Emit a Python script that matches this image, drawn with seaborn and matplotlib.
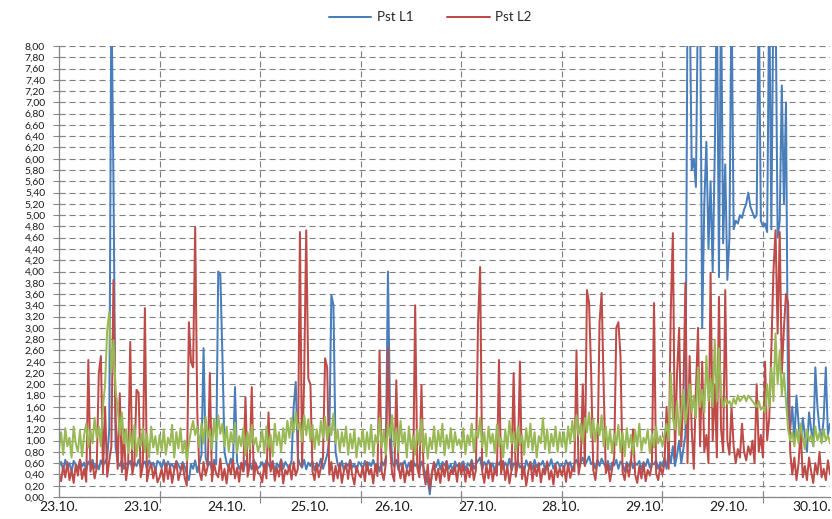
import numpy as np
import pandas as pd
import matplotlib
matplotlib.use('Agg')
import matplotlib.pyplot as plt
import seaborn as sns

# Pst readings, one value every 30 min starting 23.10. ~03:50
pst_l1 = [
    # day 0
    0.55, 0.62, 0.48, 0.66, 0.52, 0.60, 0.45, 0.64, 0.58, 0.50, 0.66, 0.54,
    0.61, 0.47, 0.63, 0.57, 0.66, 0.51, 0.60, 0.49, 0.65, 0.56, 0.62, 0.70,
    1.20, 9.00, 5.60, 0.90, 0.62, 0.55, 0.66, 0.50, 0.60, 0.57, 0.64, 0.48,
    0.61, 0.55, 0.66, 0.52, 0.59, 0.63, 0.50, 0.65, 0.56, 0.61, 0.47, 0.64,
    # day 1
    0.60, 0.52, 0.66, 0.48, 0.63, 0.55, 0.58, 0.50, 0.64, 0.57, 0.49, 0.62,
    0.54, 0.40, 0.30, 0.58, 0.50, 0.65, 0.44, 0.60, 0.75, 2.64, 0.70, 0.55,
    0.62, 0.48, 0.66, 0.58, 4.00, 3.95, 2.50, 0.80, 0.60, 0.52, 0.68, 0.55,
    1.95, 0.62, 0.50, 0.58, 0.46, 0.64, 0.53, 0.60, 0.49, 0.66, 0.56, 0.51,
    # day 2
    0.55, 0.62, 0.48, 0.66, 0.58, 0.51, 0.64, 0.45, 0.60, 0.53, 0.67, 0.50,
    0.62, 0.56, 0.48, 0.65, 1.60, 2.04, 0.70, 0.58, 0.52, 0.66, 0.49, 0.61,
    0.55, 0.63, 0.47, 0.60, 0.54, 0.68, 0.50, 0.62, 0.75, 1.00, 3.58, 3.40,
    0.80, 0.58, 0.50, 0.64, 0.47, 0.60, 0.55, 0.66, 0.52, 0.59, 0.45, 0.62,
    # day 3
    0.58, 0.50, 0.64, 0.47, 0.61, 0.55, 0.66, 0.52, 0.60, 0.45, 0.63, 0.56,
    0.70, 4.00, 1.50, 0.62, 0.54, 0.66, 0.48, 0.60, 0.57, 0.64, 0.50, 0.61,
    0.46, 0.65, 0.55, 0.59, 0.48, 0.63, 0.52, 0.40, 0.30, 0.05, 0.45, 0.60,
    0.53, 0.66, 0.49, 0.62, 0.56, 0.64, 0.50, 0.58, 0.46, 0.63, 0.54, 0.60,
    # day 4
    0.52, 0.63, 0.47, 0.60, 0.55, 0.66, 0.50, 0.58, 0.64, 0.70, 0.48, 0.62,
    0.56, 0.65, 0.51, 0.60, 0.45, 0.63, 0.57, 0.66, 0.50, 0.61, 0.54, 0.68,
    0.47, 0.60, 0.56, 0.64, 0.52, 0.58, 0.46, 0.65, 0.55, 0.62, 0.49, 0.66,
    0.53, 0.60, 0.57, 0.64, 0.48, 0.61, 0.55, 0.67, 0.50, 0.59, 0.62, 0.54,
    # day 5
    0.58, 0.50, 0.65, 0.55, 0.62, 0.47, 0.60, 0.66, 0.53, 0.61, 0.70, 0.56,
    0.64, 0.72, 0.58, 0.62, 0.50, 0.66, 0.55, 0.68, 0.60, 0.52, 0.64, 0.48,
    0.61, 0.56, 0.66, 0.50, 0.63, 0.58, 0.45, 0.62, 0.54, 0.66, 0.51, 0.60,
    0.57, 0.64, 0.49, 0.62, 0.55, 0.67, 0.52, 0.60, 0.58, 0.65, 0.50, 0.62,
    # day 6
    0.55, 0.70, 0.50, 0.80, 0.60, 0.90, 0.55, 0.75, 1.00, 0.60, 0.85, 1.10,
    9.00, 9.00, 5.80, 6.00, 5.50, 9.00, 9.00, 3.00, 5.20, 6.30, 4.40, 5.60,
    4.00, 6.10, 9.00, 3.90, 9.00, 4.50, 5.90, 3.85, 4.60, 9.00, 4.75, 4.90,
    4.85, 5.00, 4.95, 5.10, 5.20, 5.40, 5.15, 5.05, 4.95, 5.00, 9.00, 4.90,
    # day 7
    4.80, 4.85, 4.70, 9.00, 4.75, 9.00, 9.00, 4.60, 4.90, 7.30, 5.20, 7.00,
    1.50, 1.20, 1.60, 1.00, 1.80, 1.30, 0.90, 1.40, 1.10, 0.80, 1.50, 1.20,
    0.90, 2.30, 1.60, 1.20, 1.00, 1.40, 2.30, 1.10, 1.30,
]

pst_l2 = [
    # day 0
    0.40, 0.28, 0.55, 0.35, 0.62, 0.30, 0.48, 0.25, 0.58, 0.38, 0.66, 0.32,
    0.50, 0.27, 2.43, 0.45, 0.60, 0.33, 0.52, 2.20, 2.50, 0.42, 1.60, 0.36,
    0.65, 0.90, 3.85, 1.40, 0.50, 1.84, 0.44, 1.20, 0.30, 0.58, 2.75, 0.40,
    0.62, 1.90, 1.85, 0.35, 0.55, 3.35, 0.28, 0.48, 0.60, 0.33, 0.52, 0.26,
    # day 1
    0.35, 0.50, 0.27, 0.60, 0.32, 0.55, 0.25, 0.48, 0.62, 0.30, 0.45, 0.58,
    0.34, 0.20, 3.10, 2.40, 2.30, 4.79, 1.50, 0.45, 0.30, 0.62, 0.38, 0.55,
    2.20, 0.28, 0.60, 0.42, 0.35, 0.68, 0.30, 0.50, 0.24, 0.58, 0.40, 0.66,
    0.33, 0.52, 0.27, 0.61, 0.45, 1.77, 0.36, 0.55, 1.95, 0.30, 0.60, 0.42,
    # day 2
    0.40, 0.26, 0.58, 0.33, 1.50, 0.45, 0.62, 0.29, 0.52, 0.36, 0.65, 0.24,
    0.48, 0.40, 0.57, 0.31, 0.62, 0.38, 0.50, 4.70, 0.55, 2.10, 4.73, 2.10,
    2.00, 0.45, 0.30, 0.60, 0.35, 0.52, 0.70, 2.46, 2.30, 0.40, 0.62, 0.28,
    0.55, 0.33, 0.60, 0.25, 0.47, 0.58, 0.32, 0.64, 0.38, 0.22, 0.55, 0.41,
    # day 3
    0.35, 0.55, 0.28, 0.62, 0.40, 0.50, 0.24, 0.58, 0.37, 2.60, 0.45, 0.30,
    0.60, 2.64, 0.90, 0.42, 0.28, 2.07, 0.55, 0.33, 0.60, 0.26, 0.48, 0.38,
    0.64, 0.30, 3.40, 0.52, 0.35, 1.98, 0.45, 0.22, 0.58, 0.15, 0.40, 0.62,
    0.30, 0.50, 0.25, 0.57, 0.36, 0.63, 0.29, 0.48, 0.41, 0.55, 0.27, 0.60,
    # day 4
    0.40, 0.58, 0.27, 0.52, 0.35, 0.62, 0.30, 0.48, 3.08, 4.08, 0.45, 0.25,
    0.57, 0.33, 0.60, 0.28, 0.50, 0.38, 2.43, 0.42, 0.64, 0.30, 0.55, 0.24,
    0.48, 2.20, 0.36, 0.60, 2.40, 0.32, 0.53, 0.20, 0.45, 0.62, 0.28, 0.56,
    0.37, 0.60, 0.26, 0.50, 0.40, 0.63, 0.31, 0.47, 0.22, 0.58, 0.35, 0.52,
    # day 5
    0.38, 0.55, 0.27, 0.60, 0.34, 0.50, 0.45, 2.60, 0.40, 0.62, 2.00, 0.55,
    3.67, 3.44, 2.20, 0.48, 0.30, 0.65, 3.10, 3.62, 1.90, 0.42, 0.58, 0.28,
    0.50, 0.70, 3.00, 3.10, 2.50, 0.45, 0.30, 0.58, 0.36, 0.62, 1.20, 0.40,
    0.25, 0.55, 0.33, 0.60, 0.28, 0.48, 0.38, 0.57, 3.44, 0.42, 0.30, 0.55,
    # day 6
    0.40, 0.60, 1.60, 0.50, 3.30, 4.68, 0.70, 2.20, 3.00, 0.90, 1.80, 3.80,
    0.60, 2.50, 1.20, 0.50, 1.90, 3.00, 0.90, 2.40, 0.80, 1.10, 0.60, 3.97,
    1.00, 2.00, 0.70, 3.55, 1.20, 0.80, 3.67, 1.00, 0.75, 1.60, 0.90, 0.60,
    0.85, 0.70, 1.30, 0.80, 0.65, 0.90, 0.75, 1.00, 0.60, 2.00, 0.80, 1.10,
    # day 7
    0.70, 2.40, 1.00, 1.40, 2.60, 4.00, 4.73, 2.90, 4.70, 2.20, 3.00, 3.60,
    3.44, 0.80, 0.40, 0.70, 0.30, 0.60, 1.20, 0.35, 0.55, 0.30, 0.70, 0.45,
    0.25, 0.60, 0.40, 0.80, 0.35, 0.50, 0.30, 0.65, 0.40,
]

pst_l3 = [
    # day 0
    0.85, 1.15, 0.75, 1.22, 0.90, 1.05, 0.70, 1.25, 0.95, 0.80, 1.18, 0.72,
    1.10, 1.30, 0.88, 1.20, 0.95, 1.40, 1.05, 1.25, 0.90, 1.60, 2.00, 2.96,
    3.28, 2.20, 2.78, 1.90, 1.60, 1.10, 1.50, 0.95, 1.20, 0.78, 1.15, 0.85,
    1.28, 0.72, 1.05, 0.90, 1.22, 0.80, 1.12, 0.70, 1.25, 0.88, 1.08, 0.76,
    # day 1
    1.10, 0.82, 1.20, 0.75, 1.05, 0.92, 1.28, 0.70, 1.15, 0.86, 1.22, 0.78,
    1.00, 0.65, 0.95, 1.18, 1.35, 1.10, 1.25, 0.88, 1.30, 0.95, 1.42, 1.05,
    1.20, 0.85, 1.38, 1.00, 1.45, 1.12, 1.30, 0.90, 1.25, 0.80, 1.15, 0.95,
    1.32, 0.78, 1.08, 0.90, 1.22, 0.74, 1.15, 0.85, 1.28, 0.92, 1.05, 0.80,
    # day 2
    0.95, 1.18, 0.78, 1.25, 0.88, 1.10, 0.72, 1.30, 0.92, 1.15, 0.80, 1.22,
    0.95, 1.35, 1.05, 1.40, 1.15, 1.50, 1.20, 1.32, 0.98, 1.45, 1.10, 1.38,
    1.00, 1.28, 0.85, 1.20, 0.92, 1.35, 1.05, 1.42, 1.00, 1.25, 1.10, 1.48,
    0.95, 1.20, 0.80, 1.15, 0.90, 1.25, 0.75, 1.12, 0.86, 1.20, 0.70, 1.05,
    # day 3
    0.90, 1.20, 0.78, 1.15, 0.85, 1.28, 0.72, 1.10, 0.95, 1.40, 0.88, 1.18,
    0.75, 1.30, 1.05, 1.45, 0.90, 1.22, 0.80, 1.35, 0.95, 1.15, 0.70, 1.25,
    0.85, 1.08, 0.75, 1.20, 0.92, 1.38, 0.80, 1.12, 0.68, 1.05, 0.85, 1.25,
    0.78, 1.18, 0.90, 1.30, 0.74, 1.10, 0.86, 1.22, 0.80, 1.15, 0.92, 1.02,
    # day 4
    0.85, 1.22, 0.76, 1.10, 0.92, 1.30, 0.80, 1.18, 1.05, 1.40, 0.88, 1.15,
    0.72, 1.25, 0.95, 1.12, 0.78, 1.28, 0.90, 1.05, 0.70, 1.20, 0.86, 1.35,
    0.95, 1.15, 0.80, 1.25, 0.92, 1.10, 0.75, 1.22, 0.88, 1.30, 0.82, 1.15,
    0.70, 1.08, 0.95, 1.40, 0.85, 1.20, 0.78, 1.12, 0.90, 1.25, 0.80, 1.15,
    # day 5
    0.90, 1.15, 0.80, 1.25, 0.95, 1.35, 1.00, 1.45, 1.10, 1.30, 0.95, 1.40,
    1.15, 1.50, 1.05, 1.38, 0.98, 1.30, 1.10, 1.45, 0.90, 1.25, 0.85, 1.20,
    0.78, 1.12, 0.92, 1.28, 0.80, 1.15, 0.72, 1.22, 0.88, 1.10, 0.76, 1.18,
    0.90, 1.30, 0.82, 1.05, 0.95, 1.20, 0.78, 1.12, 0.88, 1.25, 0.95, 1.08,
    # day 6
    0.90, 1.10, 1.30, 1.00, 2.20, 1.40, 1.20, 1.70, 1.10, 1.50, 1.90, 1.30,
    1.60, 2.00, 1.50, 1.80, 1.40, 2.30, 1.60, 1.90, 1.50, 2.50, 1.70, 2.10,
    1.60, 2.78, 1.70, 2.64, 1.80, 1.60, 1.75, 1.65, 1.70, 1.60, 1.75, 1.65,
    1.80, 1.70, 1.75, 1.80, 1.70, 1.80, 1.75, 1.70, 1.65, 1.60, 1.70, 1.55,
    # day 7
    1.60, 1.50, 2.00, 1.60, 2.30, 1.70, 2.90, 2.00, 2.60, 1.80, 2.20, 1.70,
    1.20, 1.00, 1.15, 0.90, 1.20, 0.95, 1.30, 1.05, 0.85, 1.20, 1.00, 1.10,
    0.90, 1.25, 1.00, 1.15, 0.95, 1.20, 1.00, 1.10, 0.95,
]

day_labels = ['23.10.', '23.10.', '24.10.', '25.10.', '26.10.',
              '27.10.', '28.10.', '29.10.', '29.10.', '30.10.']

series = ['Pst L1', 'Pst L2', 'Pst L3']
colors = {'Pst L1': '#4A7EBB', 'Pst L2': '#BE4B48', 'Pst L3': '#98B954'}

assert len(pst_l1) == len(pst_l2) == len(pst_l3) == 369

# time axis in days (30 min step)
n = len(pst_l1)
t_days = np.arange(n) * 0.5 / 24

df = pd.DataFrame({
    't': np.tile(t_days, 3),
    'v': pst_l1 + pst_l2 + pst_l3,
    's': np.repeat(series, n),
})

sns.set_style('white')
plt.rcParams['font.family'] = ['Lato', 'DejaVu Sans']

fig, ax = plt.subplots(figsize=(8.32, 5.19), dpi=100)
fig.subplots_adjust(left=59 / 832, right=830 / 832, bottom=22 / 519, top=473 / 519)

sns.lineplot(data=df, x='t', y='v', hue='s', hue_order=series, palette=colors,
             estimator=None, sort=False, linewidth=1.45, legend=False, ax=ax)

grid_col = '#7f7f7f'
axis_col = '#868686'
dash = (0, (5.5, 3.5))

ax.set_xlim(0, (n - 1) * 0.5 / 24)
ax.set_ylim(0, 8)
ax.set_xlabel('')
ax.set_ylabel('')

# y axis: 0,00 ... 8,00 every 0,20 (small font so the 41 labels stay apart)
ax.set_yticks(np.arange(0, 8.001, 0.2))
ax.yaxis.set_major_formatter(plt.FuncFormatter(lambda v, p: f'{v:.2f}'.replace('.', ',')))
ax.tick_params(axis='y', direction='inout', length=8, width=0.8, color=axis_col,
               pad=6, labelsize=7.5, labelcolor='#1a1a1a', left=True)
ax.grid(axis='y', which='major', linestyle=dash, color=grid_col, linewidth=0.8)

# x axis: date labels every ~20 h, tick marks + grid every day
ax.set_xticks(np.arange(len(day_labels)) * 0.832)
ax.set_xticklabels(day_labels)
ax.set_xticks(np.arange(0, 8), minor=True)
ax.tick_params(axis='x', which='major', length=0, pad=3, labelsize=10,
               labelcolor='#1a1a1a', bottom=True)
ax.tick_params(axis='x', which='minor', direction='inout', length=8, width=0.8,
               color=axis_col, bottom=True)
ax.grid(axis='x', which='minor', linestyle=dash, color=grid_col, linewidth=0.8)
ax.grid(axis='x', which='major', visible=False)

for side in ['top', 'right']:
    ax.spines[side].set_visible(False)
for side in ['left', 'bottom']:
    ax.spines[side].set_color(axis_col)
    ax.spines[side].set_linewidth(0.9)

fig.legend(handles=ax.lines[:2], labels=series[:2], loc='center',
           bbox_to_anchor=(0.517, 0.967), ncol=2, frameon=False, fontsize=9.5,
           handlelength=3.2, handletextpad=0.4, columnspacing=2.6)

fig.savefig('out.png', dpi=100)
